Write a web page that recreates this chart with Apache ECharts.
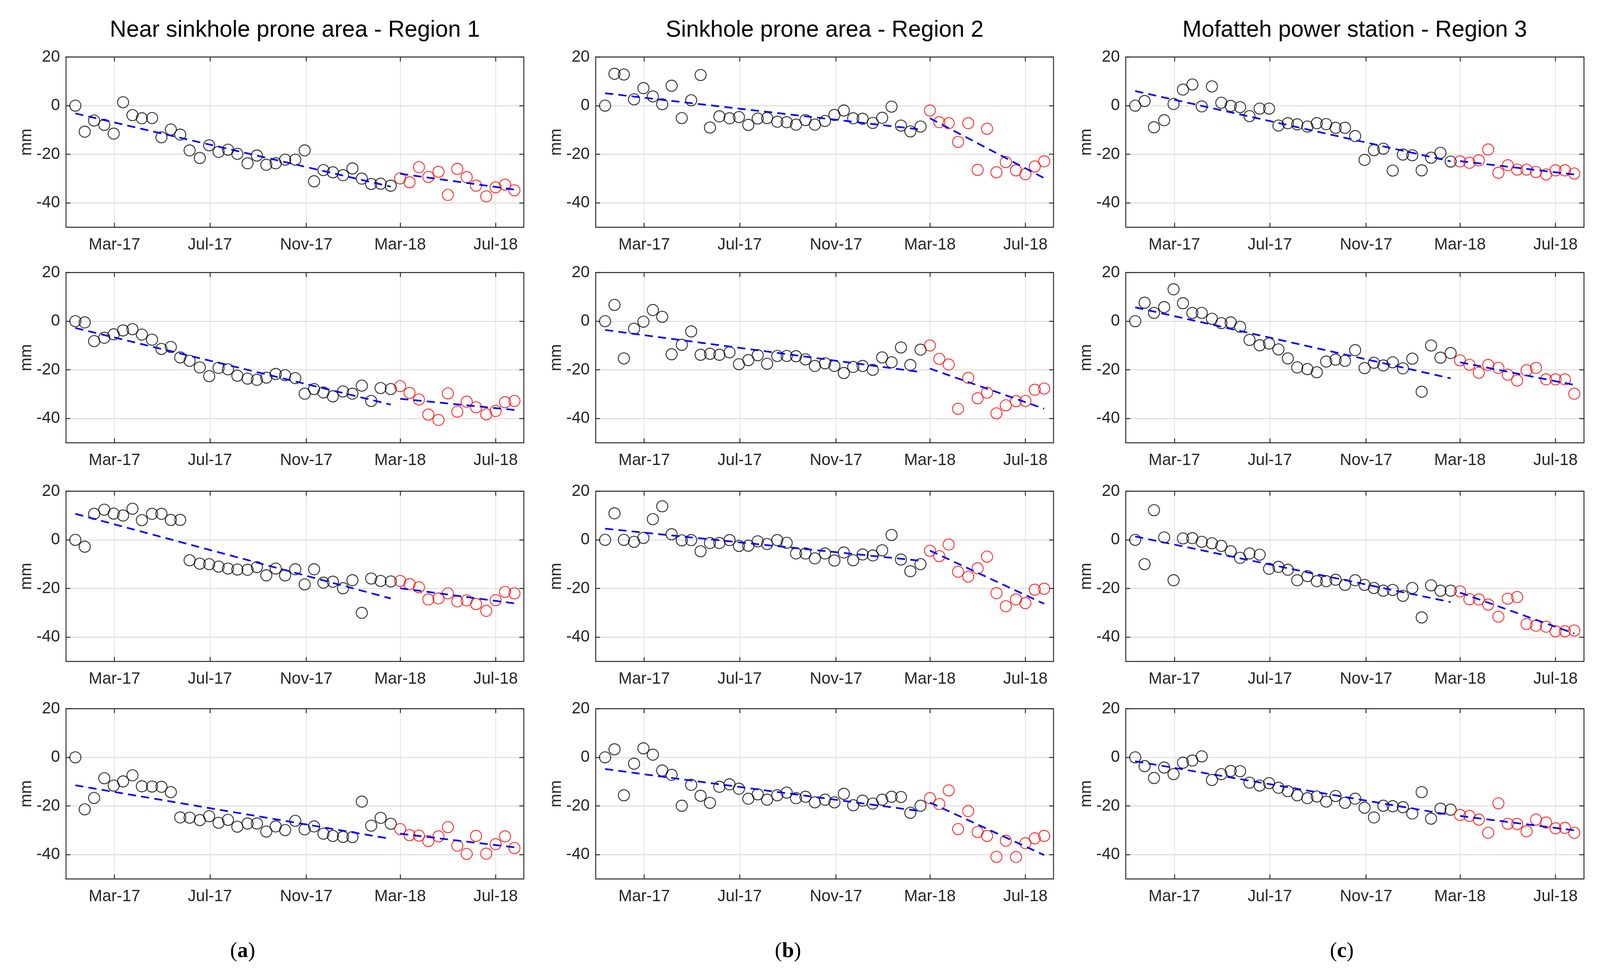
<!DOCTYPE html>
<html><head><meta charset="utf-8">
<script src="https://cdn.jsdelivr.net/npm/echarts@6/dist/echarts.min.js"></script>
<style>html,body{margin:0;padding:0;background:#fff;overflow:hidden}#c{position:absolute;left:0;top:0}</style>
</head><body><div id="c"></div>
<script>
// Acquisition dates (about 12-day revisit)
const dates = ['2017-01-10','2017-01-22','2017-02-03','2017-02-16','2017-02-28','2017-03-12','2017-03-24','2017-04-05','2017-04-18','2017-04-30','2017-05-12','2017-05-24','2017-06-05','2017-06-18','2017-06-30','2017-07-12','2017-07-24','2017-08-05','2017-08-18','2017-08-30','2017-09-11','2017-09-23','2017-10-05','2017-10-18','2017-10-30','2017-11-11','2017-11-23','2017-12-05','2017-12-18','2017-12-30','2018-01-11','2018-01-23','2018-02-04','2018-02-17','2018-03-01','2018-03-13','2018-03-25','2018-04-06','2018-04-19','2018-05-01','2018-05-13','2018-05-25','2018-06-06','2018-06-19','2018-07-01','2018-07-13','2018-07-25'];
const splitIndex = 34; // first red (later) observation
const tickDates = ['2017-03-01','2017-07-01','2017-11-01','2018-03-01','2018-07-01'];
const yTicks = [-40, -20, 0, 20];
const titles = ['Near sinkhole prone area - Region 1', 'Sinkhole prone area - Region 2', 'Mofatteh power station - Region 3'];
const panelLetters = ['a', 'b', 'c'];

// Displacement (mm), column a (Region 1), rows 1-4
const a1 = [0,-10.7,-6.1,-7.9,-11.5,1.4,-3.9,-5.2,-5.1,-13.0,-9.8,-11.9,-18.4,-21.5,-16.3,-19.0,-18.1,-19.8,-23.7,-20.5,-24.3,-23.7,-22.2,-22.2,-18.4,-31.1,-26.5,-27.4,-28.6,-25.8,-30.0,-32.2,-32.1,-32.9,-29.9,-31.5,-25.3,-29.3,-27.2,-36.7,-26.0,-29.4,-32.9,-37.3,-33.6,-32.5,-34.8];
const a2 = [0,-0.5,-8.2,-6.8,-5.4,-3.8,-3.3,-5.5,-7.6,-11.4,-10.6,-14.9,-16.3,-19.0,-22.6,-19.2,-19.8,-22.4,-23.6,-24.1,-23.2,-21.7,-22.2,-23.4,-29.8,-27.9,-29.3,-30.9,-28.9,-29.8,-26.5,-32.8,-27.5,-27.9,-26.7,-29.5,-32.2,-38.4,-40.6,-29.7,-37.2,-33.1,-35.4,-38.3,-36.9,-33.3,-32.8];
const a3 = [0,-2.8,10.7,12.4,10.8,10.0,12.8,8.1,10.7,10.7,8.2,8.2,-8.4,-9.8,-10.0,-11.0,-11.8,-12.2,-12.3,-11.2,-14.6,-11.8,-14.6,-12.1,-18.3,-12.1,-17.6,-17.2,-19.9,-16.6,-30.0,-15.9,-16.9,-17.1,-16.9,-18.2,-19.5,-24.5,-24.1,-22.0,-25.3,-24.9,-26.4,-29.2,-24.8,-21.4,-22.0];
const a4 = [0,-21.4,-16.7,-8.6,-11.6,-9.9,-7.4,-11.9,-12.0,-12.1,-14.3,-24.7,-24.8,-25.8,-24.2,-26.9,-25.7,-28.5,-27.2,-27.2,-30.5,-28.4,-29.9,-26.1,-29.6,-28.4,-31.4,-32.3,-32.7,-32.8,-18.2,-28.1,-24.9,-27.3,-29.5,-32.0,-32.2,-34.4,-32.5,-28.7,-36.3,-39.7,-32.3,-39.6,-35.7,-32.5,-37.3];
// column b (Region 2)
const b1 = [0,13.1,12.8,2.6,7.2,3.8,0.6,8.2,-5.1,2.2,12.6,-9.0,-4.4,-5.2,-4.7,-7.9,-5.3,-5.1,-6.6,-6.8,-7.8,-5.9,-7.8,-6.3,-3.8,-2.0,-5.2,-5.4,-7.1,-5.0,-0.4,-8.2,-10.6,-8.6,-2.0,-6.8,-7.2,-14.9,-7.2,-26.4,-9.5,-27.4,-23.2,-26.6,-28.2,-25.0,-22.9];
const b2 = [0,6.7,-15.3,-3.1,-0.2,4.6,1.8,-13.6,-9.7,-4.2,-13.8,-13.4,-13.8,-12.8,-17.7,-16.0,-14.0,-17.5,-14.3,-14.3,-14.4,-15.7,-18.4,-17.3,-18.4,-21.3,-18.8,-18.4,-20.0,-14.9,-16.9,-10.8,-18.0,-11.7,-10.0,-15.5,-17.8,-36.0,-23.3,-31.7,-29.4,-37.9,-34.6,-32.9,-32.8,-28.2,-27.7];
const b3 = [0,10.9,0,-0.8,0.8,8.5,13.8,2.3,-0.2,-0.1,-4.7,-1.3,-1.3,-0.1,-2.5,-2.4,-0.6,-1.7,-0.1,-1.2,-5.6,-5.6,-7.6,-5.6,-8.5,-5.2,-8.4,-6.0,-6.4,-4.3,2.0,-8.1,-12.9,-10.0,-4.5,-6.7,-1.9,-13.1,-15.1,-11.7,-6.9,-21.9,-27.3,-24.5,-26.0,-20.5,-20.1];
const b4 = [0,3.3,-15.6,-2.6,3.7,1.1,-5.4,-7.2,-19.9,-11.3,-15.8,-18.7,-12.1,-11.1,-12.9,-17.0,-15.2,-17.4,-15.6,-14.5,-16.8,-16.2,-18.5,-17.4,-18.5,-15.0,-19.7,-17.8,-19.0,-17.4,-16.2,-16.3,-22.8,-19.9,-16.8,-19.2,-13.6,-29.5,-22.1,-30.7,-32.3,-40.9,-34.3,-41.0,-35.3,-33.3,-32.3];
// column c (Region 3)
const c1 = [0,1.9,-8.9,-6.0,0.7,6.6,8.7,-0.3,7.9,1.2,-0.1,-0.6,-4.3,-1.2,-1.2,-8.2,-7.2,-7.7,-8.6,-7.2,-7.6,-9.1,-9.1,-12.5,-22.3,-18.3,-17.7,-26.7,-20.1,-20.4,-26.6,-21.4,-19.4,-23.0,-22.9,-23.5,-22.5,-18.0,-27.6,-24.5,-26.3,-26.3,-27.3,-28.3,-26.6,-26.6,-27.9];
const c2 = [0,7.6,3.4,5.8,13.1,7.4,3.4,3.4,1.0,-0.8,-0.5,-2.3,-7.7,-9.9,-9.2,-11.6,-15.3,-19.0,-19.7,-21.0,-16.6,-15.8,-16.3,-11.9,-19.3,-17.1,-18.2,-16.9,-19.4,-15.4,-29.0,-10.0,-15.0,-13.1,-16.1,-17.9,-21.2,-18.0,-19.2,-22.0,-24.4,-20.2,-19.2,-23.9,-23.9,-23.9,-29.8];
const c3 = [0,-10.0,12.2,1.0,-16.6,0.6,0.7,-0.8,-1.4,-2.5,-4.7,-7.4,-5.6,-6.1,-11.9,-11.1,-12.3,-16.6,-14.9,-17.0,-17.0,-16.4,-18.5,-16.6,-18.5,-19.8,-20.9,-20.6,-23.0,-19.8,-31.9,-18.7,-20.9,-20.9,-21.2,-24.4,-24.5,-26.6,-31.6,-24.2,-23.5,-34.6,-35.3,-35.7,-37.6,-37.6,-37.3];
const c4 = [0,-3.6,-8.5,-4.2,-6.9,-2.2,-1.3,0.4,-9.3,-6.9,-5.6,-5.7,-10.4,-11.6,-10.6,-12.5,-13.9,-15.6,-16.8,-16.1,-18.2,-15.9,-18.7,-17.0,-20.7,-24.7,-19.9,-20.1,-20.5,-23.1,-14.3,-25.2,-21.1,-21.5,-23.7,-24.1,-25.6,-31.0,-18.9,-27.3,-27.4,-30.4,-25.6,-26.8,-29.2,-29.0,-31.0];

// Linear trend end values: [early start, early end, late start, late end]
const tA1 = [-3.2,-33.3,-28.0,-34.5], tA2 = [-2.8,-34.3,-31.9,-36.5], tA3 = [10.7,-24.1,-19.9,-26.1], tA4 = [-11.5,-33.5,-31.4,-37.0];
const tB1 = [5.1,-9.8,-5.2,-29.8], tB2 = [-3.6,-20.9,-19.5,-36.0], tB3 = [4.6,-8.6,-4.4,-26.3], tB4 = [-4.8,-22.1,-18.6,-40.2];
const tC1 = [6.0,-22.9,-22.8,-28.3], tC2 = [5.7,-23.5,-16.9,-26.2], tC3 = [1.4,-25.6,-21.7,-38.5], tC4 = [-1.6,-23.7,-24.1,-30.0];

const columns = [[a1,a2,a3,a4],[b1,b2,b3,b4],[c1,c2,c3,c4]];
const trends = [[tA1,tA2,tA3,tA4],[tB1,tB2,tB3,tB4],[tC1,tC2,tC3,tC4]];

// layout measured in reference pixels (4319 x 2497), scaled to the viewport
const W = window.innerWidth || 4319, H = window.innerHeight || 2497;
const sx = W / 4319, sy = H / 2497, sf = Math.min(sx, sy);
const el = document.getElementById('c');
el.style.width = W + 'px'; el.style.height = H + 'px';
const X = v => v * sx, Y = v => v * sy, F = v => v * sf;

const colLeft = [178, 1608, 3039];
const rowTop = [146, 698, 1258, 1815];
const plotW = 1236, plotH = 436;
const toTs = s => { const p = s.split('-').map(Number); return new Date(p[0], p[1]-1, p[2]).getTime(); };
const xMin = new Date(2016, 11, 29).getTime();
const xMax = new Date(2018, 7, 6).getTime();
const months = ['Jan','Feb','Mar','Apr','May','Jun','Jul','Aug','Sep','Oct','Nov','Dec'];
const tickTs = tickDates.map(toTs);
const dateTs = dates.map(toTs);
const TXT = '#262626';
const FONT = 'Liberation Sans';

const grid = [], xAxis = [], yAxis = [], series = [], graphic = [];
let gi = 0;
for (let c = 0; c < 3; c++) {
  for (let r = 0; r < 4; r++) {
    grid.push({left: X(colLeft[c]), top: Y(rowTop[r]), width: X(plotW), height: Y(plotH), containLabel: false});
    const common = {gridIndex: gi, type: 'value', min: xMin, max: xMax, scale: true,
      axisLine: {show: true, onZero: false, lineStyle: {color: TXT, width: F(2.5)}},
      axisTick: {show: true, inside: true, length: F(12), customValues: tickTs, lineStyle: {color: TXT, width: F(2.5)}}};
    xAxis.push(Object.assign({}, common, {position: 'bottom',
      axisLabel: {show: true, customValues: tickTs, fontFamily: FONT, fontSize: F(44), color: TXT, margin: F(26),
        formatter: v => { const d = new Date(v); return months[d.getMonth()] + '-' + String(d.getFullYear()).slice(2); }},
      splitLine: {show: true, lineStyle: {color: '#e3e3e3', width: F(2)}}}));
    xAxis.push(Object.assign({}, common, {position: 'top', axisLabel: {show: false}, splitLine: {show: false}}));
    const ycommon = {gridIndex: gi, type: 'value', min: -50, max: 20,
      axisLine: {show: true, onZero: false, lineStyle: {color: TXT, width: F(2.5)}},
      axisTick: {show: true, inside: true, length: F(12), customValues: yTicks, lineStyle: {color: TXT, width: F(2.5)}}};
    yAxis.push(Object.assign({}, ycommon, {position: 'left',
      name: 'mm', nameLocation: 'middle', nameGap: F(84), nameRotate: 90,
      nameTextStyle: {fontFamily: FONT, fontSize: F(44), color: TXT},
      axisLabel: {show: true, customValues: yTicks, fontFamily: FONT, fontSize: F(44), color: TXT, margin: F(16)},
      splitLine: {show: true, lineStyle: {color: '#dcdcdc', width: F(2.5)}}}));
    yAxis.push(Object.assign({}, ycommon, {position: 'right', axisLabel: {show: false}, splitLine: {show: false}}));

    const vals = columns[c][r];
    const tr = trends[c][r];
    const blackPts = [], redPts = [];
    vals.forEach((v, i) => { (i < splitIndex ? blackPts : redPts).push([dateTs[i], v]); });
    const mk = (data, col) => ({type: 'scatter', xAxisIndex: gi*2, yAxisIndex: gi*2, data: data,
      symbol: 'circle', symbolSize: F(30), z: 3,
      itemStyle: {color: 'rgba(0,0,0,0)', borderColor: col, borderWidth: F(2.5)}});
    series.push(mk(blackPts, '#000000'));
    series.push(mk(redPts, '#ff0000'));
    const ln = data => ({type: 'line', xAxisIndex: gi*2, yAxisIndex: gi*2, data: data, showSymbol: false, symbol: 'none', z: 4,
      lineStyle: {color: '#0000ff', width: F(4.5), type: [F(22), F(14)]}});
    series.push(ln([[dateTs[0], tr[0]], [dateTs[splitIndex-1], tr[1]]]));
    series.push(ln([[dateTs[splitIndex], tr[2]], [dateTs[dateTs.length-1], tr[3]]]));
    gi++;
  }
  graphic.push({type: 'text', x: X(colLeft[c] + plotW/2), y: Y(78), style: {text: titles[c], font: F(62) + 'px "Liberation Sans"', fill: '#000', align: 'center', verticalAlign: 'middle'}});
}
const letterX = [655, 2127, 3622];
for (let c = 0; c < 3; c++) {
  graphic.push({type: 'text', x: X(letterX[c]), y: Y(2437), style: {
    text: '{p|(}{b|' + panelLetters[c] + '}{p|)}',
    rich: {p: {fontFamily: 'Liberation Serif', fontSize: F(58), fill: '#000'}, b: {fontFamily: 'Liberation Serif', fontSize: F(58), fontWeight: 'bold', fill: '#000'}},
    align: 'center', verticalAlign: 'middle'}});
}

const chart = echarts.init(el, null, {renderer: 'canvas'});
chart.setOption({animation: false, backgroundColor: '#fff', grid, xAxis, yAxis, series, graphic});
</script></body></html>
